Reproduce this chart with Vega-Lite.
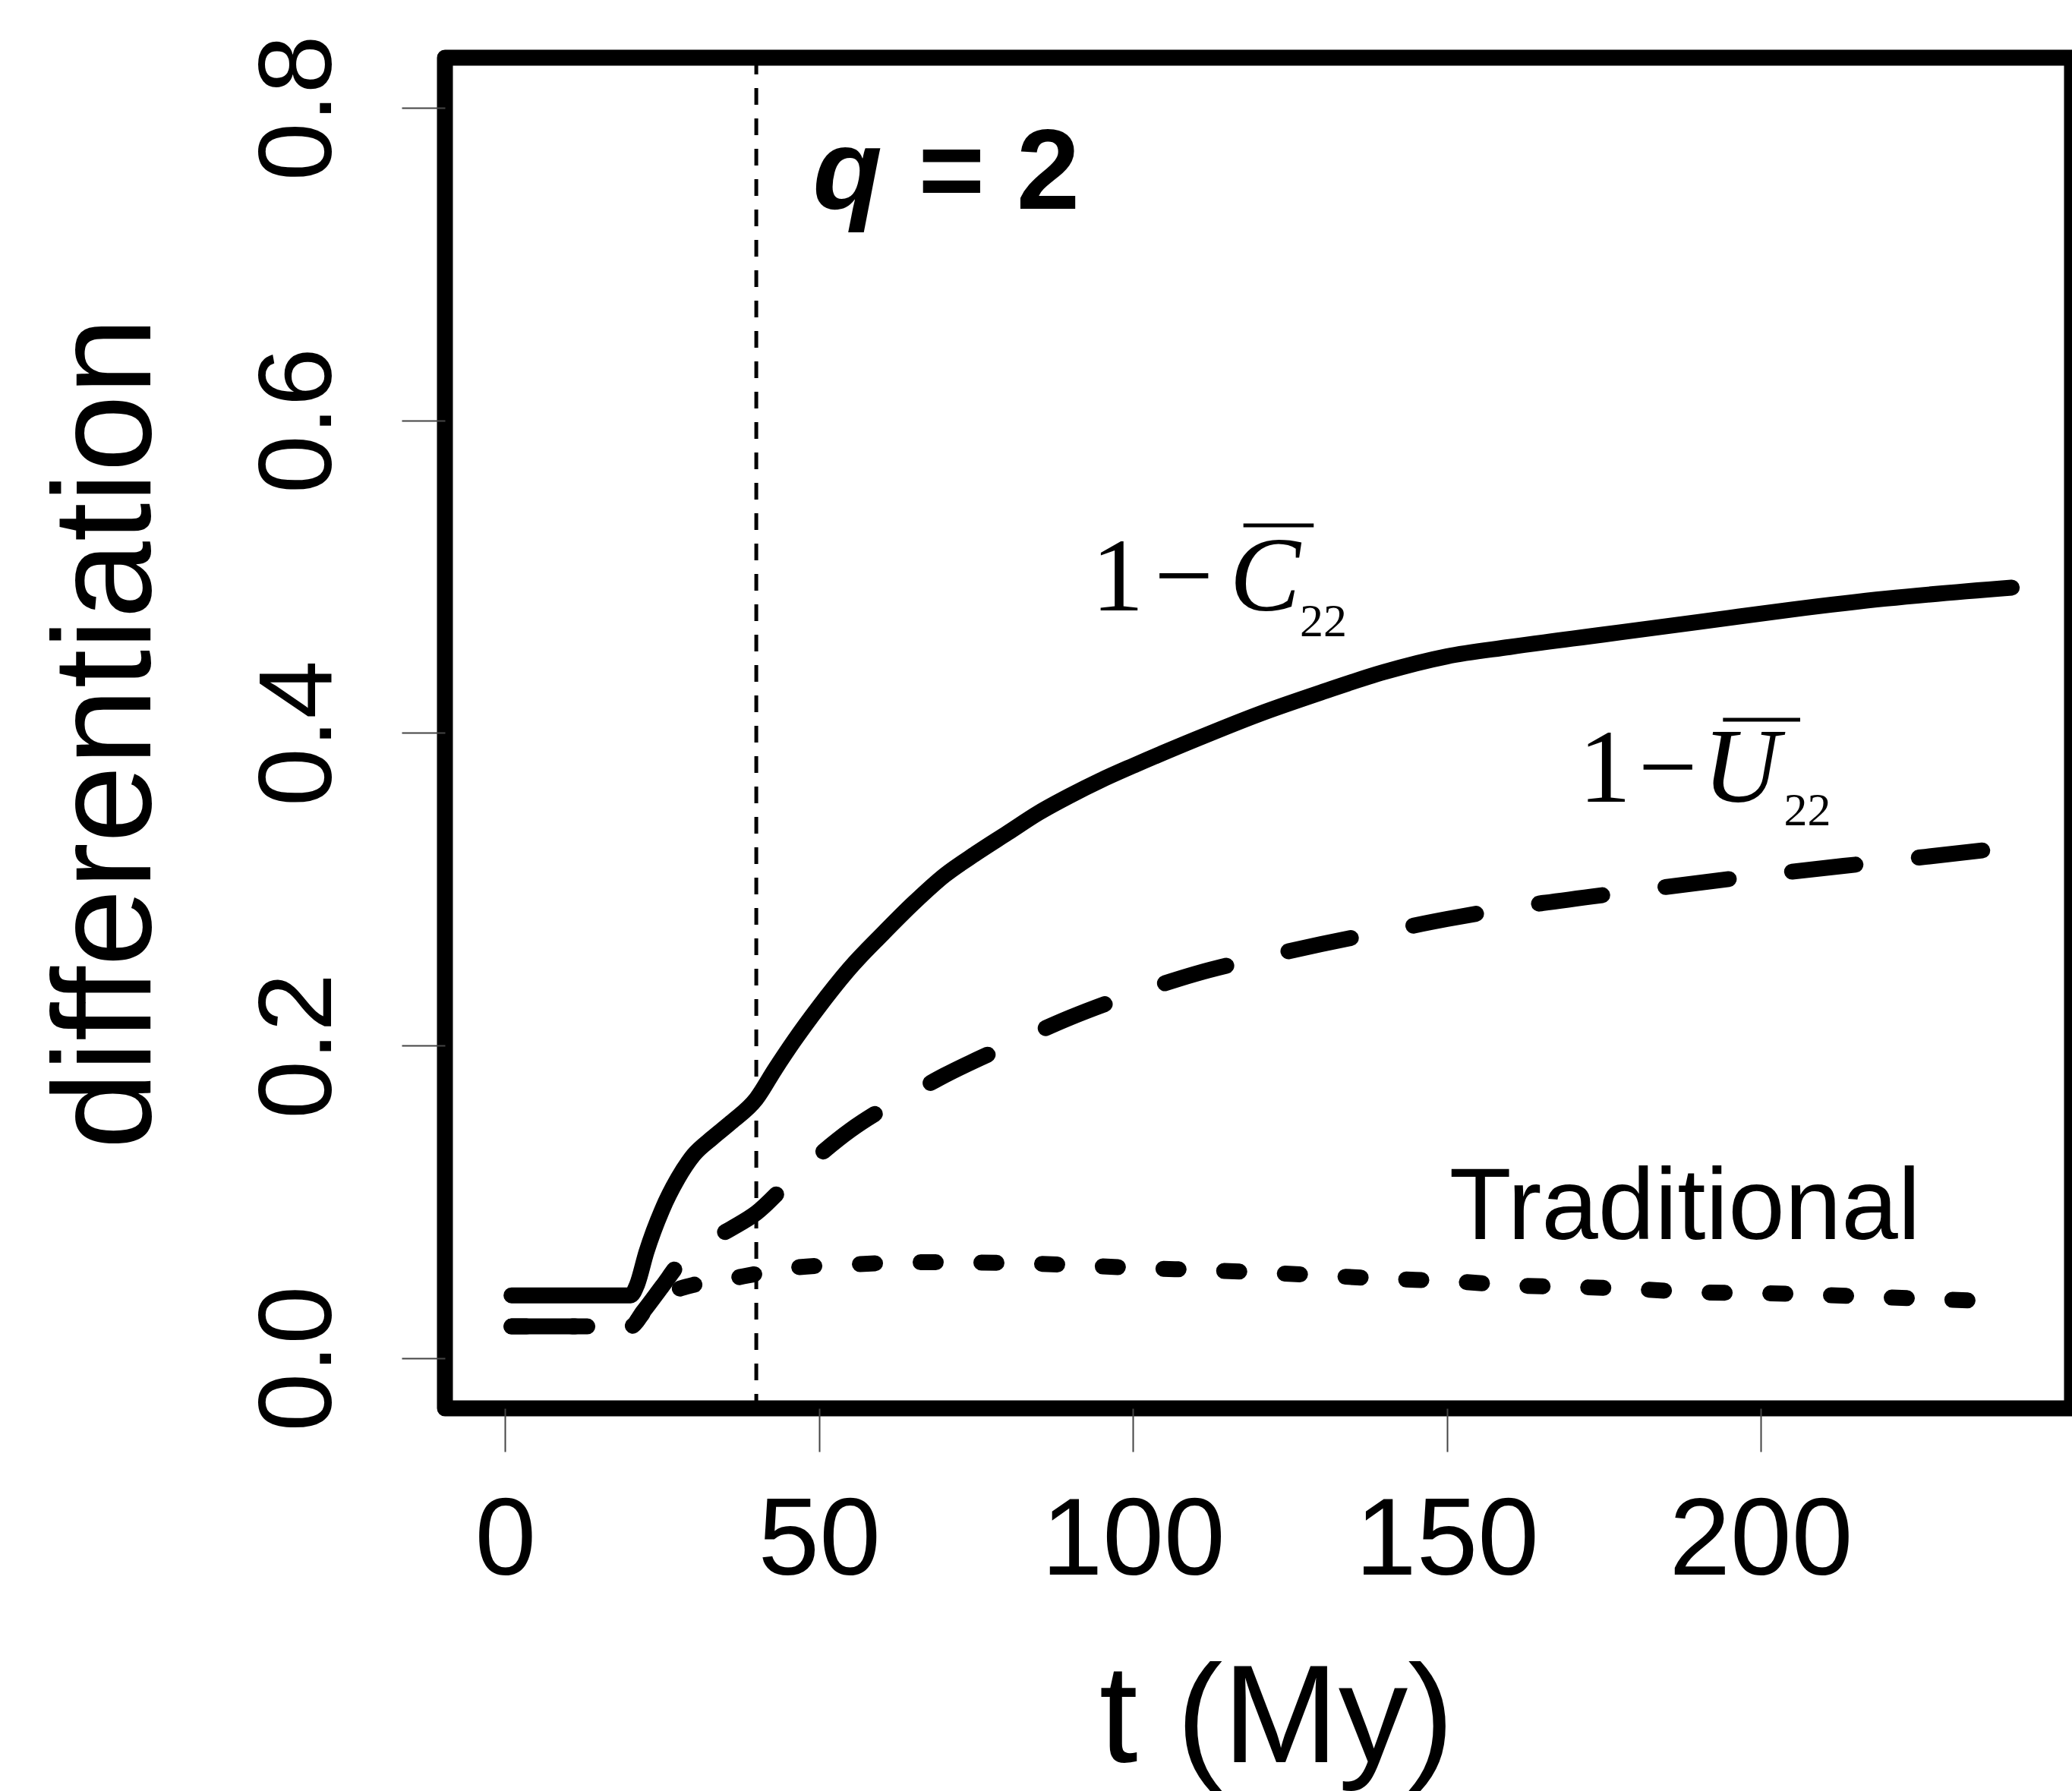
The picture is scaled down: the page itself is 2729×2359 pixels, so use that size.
{
  "$schema": "https://vega.github.io/schema/vega-lite/v6.json",
  "autosize": {"type": "none"},
  "width": 2143,
  "height": 1779,
  "padding": {"left": 586, "top": 76, "right": 0, "bottom": 504},
  "background": "white",
  "config": {
    "view": {"stroke": "black", "strokeWidth": 21, "strokeJoin": "round"},
    "axis": {"grid": false, "domain": false, "tickColor": "#444", "tickWidth": 2, "tickSize": 57, "labelLimit": 0, "titleLimit": 0,
             "labelFont": "Liberation Sans", "labelFontSize": 138, "labelColor": "black",
             "titleFont": "Liberation Sans", "titleFontSize": 183, "titleFontWeight": "normal", "titleColor": "black"}
  },
  "layer": [
    {
      "data": {"values": [{"t": 40}]},
      "mark": {"type": "rule", "color": "black", "strokeWidth": 5, "strokeDash": [22, 18]},
      "encoding": {
        "x": {"field": "t", "type": "quantitative", "scale": {"domain": [-9.6, 249.6], "nice": false, "zero": false},
              "axis": {"values": [0, 50, 100, 150, 200], "labelPadding": 161, "labelBaseline": "alphabetic", "labelFontSize": 145,
                       "title": "t (My)", "titleX": 1095, "titleY": 465, "titleBaseline": "alphabetic", "titleAlign": "center"}}
      }
    },
    {
      "data": {"values": [
        {"t": 1, "v": 0.0403}, {"t": 20, "v": 0.0403}, {"t": 21, "v": 0.047}, {"t": 22.5, "v": 0.068},
        {"t": 25, "v": 0.095}, {"t": 27.5, "v": 0.115}, {"t": 30, "v": 0.13}, {"t": 33, "v": 0.141},
        {"t": 36, "v": 0.151}, {"t": 40, "v": 0.166}, {"t": 43, "v": 0.185}, {"t": 46, "v": 0.203},
        {"t": 50, "v": 0.225}, {"t": 55, "v": 0.25}, {"t": 60, "v": 0.271}, {"t": 65, "v": 0.291},
        {"t": 70, "v": 0.309}, {"t": 75, "v": 0.323}, {"t": 80, "v": 0.336}, {"t": 85, "v": 0.349},
        {"t": 90, "v": 0.36}, {"t": 95, "v": 0.37}, {"t": 100, "v": 0.379}, {"t": 110, "v": 0.396},
        {"t": 120, "v": 0.412}, {"t": 130, "v": 0.426}, {"t": 140, "v": 0.439}, {"t": 150, "v": 0.449},
        {"t": 160, "v": 0.455}, {"t": 175, "v": 0.463}, {"t": 190, "v": 0.471}, {"t": 205, "v": 0.479},
        {"t": 220, "v": 0.486}, {"t": 240, "v": 0.493}
      ]},
      "mark": {"type": "line", "color": "black", "strokeWidth": 21, "strokeCap": "round", "strokeJoin": "round", "interpolate": "monotone"},
      "encoding": {
        "x": {"field": "t", "type": "quantitative"},
        "y": {"field": "v", "type": "quantitative", "scale": {"domain": [-0.032, 0.832], "nice": false, "zero": false},
              "axis": {"values": [0, 0.2, 0.4, 0.6, 0.8], "format": ".1f", "labelAngle": -90, "labelAlign": "center",
                       "labelBaseline": "alphabetic", "labelPadding": 94,
                       "title": "differentiation", "titleAngle": -90, "titleX": -389, "titleY": 889.5,
                       "titleBaseline": "alphabetic", "titleAlign": "center"}}
      }
    },
    {
      "data": {"values": [
        {"t": 1, "v": 0.0204}, {"t": 20, "v": 0.0204}, {"t": 22, "v": 0.03}, {"t": 25, "v": 0.046},
        {"t": 28, "v": 0.062}, {"t": 32, "v": 0.074}, {"t": 36, "v": 0.083}, {"t": 40, "v": 0.093},
        {"t": 45, "v": 0.112}, {"t": 50, "v": 0.13}, {"t": 55, "v": 0.146}, {"t": 60, "v": 0.159},
        {"t": 65, "v": 0.17}, {"t": 70, "v": 0.181}, {"t": 80, "v": 0.2}, {"t": 90, "v": 0.218},
        {"t": 100, "v": 0.233}, {"t": 110, "v": 0.246}, {"t": 120, "v": 0.256}, {"t": 130, "v": 0.265},
        {"t": 140, "v": 0.273}, {"t": 150, "v": 0.281}, {"t": 160, "v": 0.288}, {"t": 180, "v": 0.299},
        {"t": 200, "v": 0.309}, {"t": 220, "v": 0.318}, {"t": 240, "v": 0.327}
      ]},
      "mark": {"type": "line", "color": "black", "strokeWidth": 21, "strokeCap": "round", "strokeJoin": "round", "strokeDash": [84, 84], "interpolate": "monotone"},
      "encoding": {"x": {"field": "t", "type": "quantitative"}, "y": {"field": "v", "type": "quantitative"}}
    },
    {
      "data": {"values": [
        {"t": 1, "v": 0.0204}, {"t": 20, "v": 0.0204}, {"t": 22, "v": 0.029}, {"t": 24, "v": 0.036},
        {"t": 26.8, "v": 0.043}, {"t": 30, "v": 0.047}, {"t": 36, "v": 0.051}, {"t": 40, "v": 0.054},
        {"t": 46, "v": 0.058}, {"t": 55, "v": 0.06}, {"t": 65, "v": 0.0615}, {"t": 80, "v": 0.061},
        {"t": 100, "v": 0.058}, {"t": 120, "v": 0.055}, {"t": 140, "v": 0.051}, {"t": 152, "v": 0.049},
        {"t": 161, "v": 0.0466}, {"t": 171, "v": 0.0456}, {"t": 181, "v": 0.0441}, {"t": 190, "v": 0.0422},
        {"t": 200, "v": 0.0417}, {"t": 220, "v": 0.039}, {"t": 240, "v": 0.036}
      ]},
      "mark": {"type": "line", "color": "black", "strokeWidth": 21, "strokeCap": "round", "strokeJoin": "round", "strokeDash": [20, 60], "interpolate": "monotone"},
      "encoding": {"x": {"field": "t", "type": "quantitative"}, "y": {"field": "v", "type": "quantitative"}}
    },
    {
      "data": {"values": [{"t": 49.0, "v": 0.7354, "label": "q"}]},
      "mark": {"type": "text", "font": "Liberation Sans", "fontSize": 150, "fontWeight": "bold", "fontStyle": "italic", "align": "left", "baseline": "alphabetic", "color": "black"},
      "encoding": {"x": {"field": "t", "type": "quantitative"}, "y": {"field": "v", "type": "quantitative"}, "text": {"field": "label"}}
    },
    {
      "data": {"values": [{"t": 65.8, "v": 0.7354, "label": "= 2"}]},
      "mark": {"type": "text", "font": "Liberation Sans", "fontSize": 150, "fontWeight": "bold", "align": "left", "baseline": "alphabetic", "color": "black"},
      "encoding": {"x": {"field": "t", "type": "quantitative"}, "y": {"field": "v", "type": "quantitative"}, "text": {"field": "label"}}
    },
    {
      "data": {"values": [
        {"t": 93.4, "v": 0.4784, "label": "1"}, {"t": 103.4, "v": 0.4784, "label": "−"},
        {"t": 171.0, "v": 0.356, "label": "1"}, {"t": 180.5, "v": 0.356, "label": "−"}
      ]},
      "mark": {"type": "text", "font": "Liberation Serif", "fontSize": 138, "align": "left", "baseline": "alphabetic", "color": "black"},
      "encoding": {"x": {"field": "t", "type": "quantitative"}, "y": {"field": "v", "type": "quantitative"}, "text": {"field": "label"}}
    },
    {
      "data": {"values": [
        {"t": 115.4, "v": 0.4784, "label": "C"}, {"t": 190.8, "v": 0.356, "label": "U"}
      ]},
      "mark": {"type": "text", "font": "Liberation Serif", "fontSize": 140, "fontStyle": "italic", "align": "left", "baseline": "alphabetic", "color": "black"},
      "encoding": {"x": {"field": "t", "type": "quantitative"}, "y": {"field": "v", "type": "quantitative"}, "text": {"field": "label"}}
    },
    {
      "data": {"values": [
        {"t": 126.6, "v": 0.462, "label": "22"}, {"t": 203.7, "v": 0.341, "label": "22"}
      ]},
      "mark": {"type": "text", "font": "Liberation Serif", "fontSize": 62, "align": "left", "baseline": "alphabetic", "color": "black"},
      "encoding": {"x": {"field": "t", "type": "quantitative"}, "y": {"field": "v", "type": "quantitative"}, "text": {"field": "label"}}
    },
    {
      "data": {"values": [
        {"t1": 117.6, "t2": 128.8, "v": 0.5328}, {"t1": 194.0, "t2": 206.3, "v": 0.4085}
      ]},
      "mark": {"type": "rule", "color": "black", "strokeWidth": 5},
      "encoding": {"x": {"field": "t1", "type": "quantitative"}, "x2": {"field": "t2"}, "y": {"field": "v", "type": "quantitative"}}
    },
    {
      "data": {"values": [{"t": 150.4, "v": 0.0763, "label": "Traditional"}]},
      "mark": {"type": "text", "font": "Liberation Sans", "fontSize": 134, "align": "left", "baseline": "alphabetic", "color": "black"},
      "encoding": {"x": {"field": "t", "type": "quantitative"}, "y": {"field": "v", "type": "quantitative"}, "text": {"field": "label"}}
    }
  ]
}
